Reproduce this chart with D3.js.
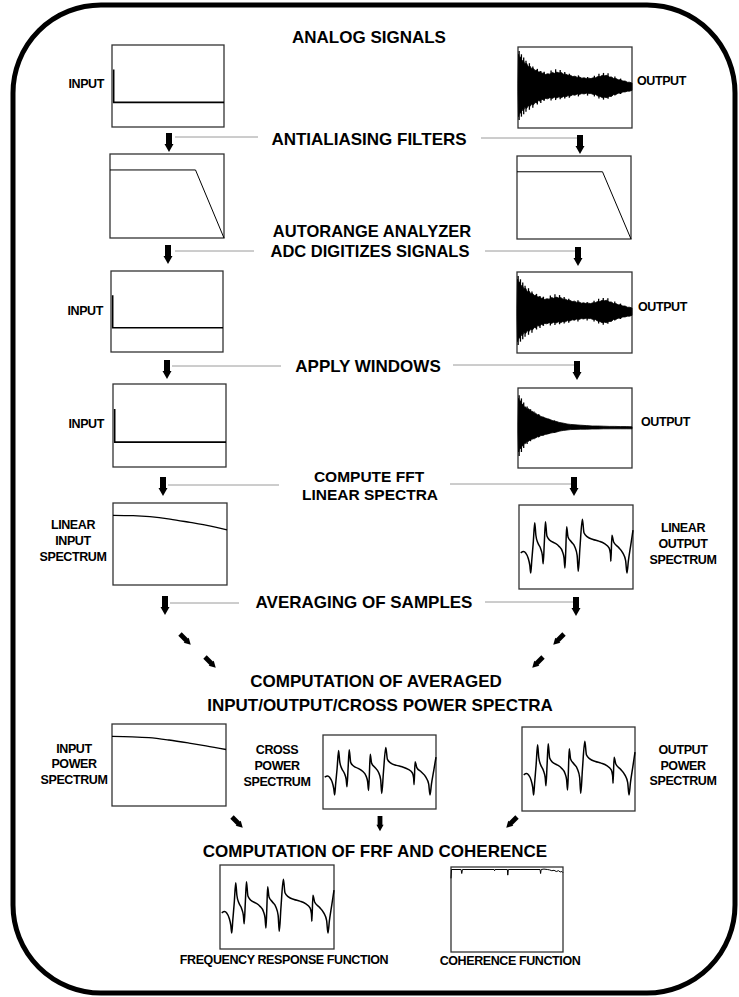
<!DOCTYPE html>
<html><head><meta charset="utf-8">
<script src="https://cdn.jsdelivr.net/npm/d3@7"></script>
<style>
body{margin:0;background:#fff}
svg{display:block}
text{font-family:"Liberation Sans",Arial,Helvetica,sans-serif;font-weight:bold;fill:#000}
</style>
</head><body><div id="chart"></div>
<script>
// ---------------- DATA ----------------
// impulse input (time, amplitude)
const inputPulseT = [0.015, 0.015, 1];
const inputPulseV = [1, 0, 0];

// decaying output time signal: envelope of dense oscillation (time, upper, lower)
const outputT = [0,0.005,0.015,0.025,0.035,0.045,0.06,0.075,0.09,0.105,0.12,0.135,0.15,0.165,0.18,0.195,0.21,0.225,0.24,
  0.26,0.28,0.30,0.32,0.34,0.36,0.38,0.40,0.42,0.44,0.46,0.48,0.50,0.52,0.54,0.56,0.58,0.60,0.62,0.64,0.66,0.68,0.70,0.72,0.74,0.76,0.78,0.80,0.82,0.84,0.86,0.88,0.90,0.92,0.94,0.96,0.98,1.00];
const outputUpper = [0.10,0.82,0.72,0.76,0.64,0.68,0.58,0.60,0.51,0.53,0.46,0.47,0.42,0.43,0.38,0.39,0.35,0.36,0.32,
  0.34,0.33,0.37,0.35,0.38,0.36,0.37,0.33,0.33,0.30,0.30,0.27,0.28,0.25,0.26,0.23,0.24,0.22,0.23,0.22,0.24,0.24,0.27,0.27,0.30,0.29,0.30,0.26,0.26,0.22,0.22,0.19,0.19,0.16,0.16,0.13,0.13,0.11];
const outputLower = [-0.10,-0.72,-0.60,-0.64,-0.54,-0.58,-0.49,-0.52,-0.45,-0.47,-0.41,-0.43,-0.37,-0.38,-0.32,-0.34,-0.29,-0.31,-0.27,
  -0.28,-0.25,-0.27,-0.24,-0.26,-0.23,-0.25,-0.22,-0.23,-0.20,-0.21,-0.18,-0.19,-0.16,-0.17,-0.15,-0.16,-0.14,-0.15,-0.15,-0.17,-0.17,-0.21,-0.22,-0.25,-0.24,-0.25,-0.22,-0.22,-0.17,-0.17,-0.14,-0.14,-0.11,-0.11,-0.09,-0.09,-0.07];
// protruding oscillation peaks of the output signal (time, top, bottom)
const outputSpikeT = [0.01,0.03,0.05,0.07,0.10,0.13,0.17,0.20,0.23,0.29,0.33,0.37,0.41,0.45,0.53,0.61,0.67,0.71,0.75,0.79,0.85,0.90];
const outputSpikeHi = [0.90,0.82,0.74,0.66,0.60,0.52,0.46,0.41,0.39,0.42,0.45,0.43,0.38,0.34,0.30,0.26,0.29,0.34,0.36,0.35,0.27,0.22];
const outputSpikeLo = [-0.80,-0.72,-0.66,-0.60,-0.55,-0.50,-0.42,-0.38,-0.33,-0.32,-0.31,-0.29,-0.27,-0.25,-0.22,-0.20,-0.22,-0.27,-0.30,-0.28,-0.20,-0.16];

// windowed output (time, upper, lower)
const windowedT = [0,0.005,0.015,0.025,0.035,0.045,0.055,0.065,0.08,0.095,0.11,0.125,0.14,0.155,0.17,0.185,0.2,
  0.22,0.24,0.26,0.28,0.3,0.32,0.34,0.36,0.38,0.4,0.43,0.46,0.5,0.55,0.6,0.65,0.7,0.75,0.8,0.85,0.9,0.95,1];
const windowedUpper = [0.1,0.74,0.66,0.68,0.58,0.60,0.52,0.53,0.47,0.48,0.42,0.42,0.37,0.37,0.33,0.33,0.29,
  0.27,0.25,0.23,0.21,0.19,0.17,0.16,0.14,0.13,0.12,0.10,0.09,0.08,0.07,0.06,0.05,0.05,0.045,0.04,0.04,0.035,0.035,0.03];
const windowedLower = [-0.1,-0.60,-0.50,-0.52,-0.44,-0.45,-0.38,-0.39,-0.33,-0.33,-0.28,-0.28,-0.25,-0.25,-0.22,-0.22,-0.19,
  -0.18,-0.16,-0.15,-0.13,-0.12,-0.11,-0.10,-0.08,-0.07,-0.06,-0.05,-0.04,-0.035,-0.03,-0.03,-0.025,-0.025,-0.02,-0.02,-0.02,-0.02,-0.02,-0.02];
const windowedSpikeT = [0.01,0.03,0.05,0.08,0.11,0.14,0.18,0.22,0.27,0.32];
const windowedSpikeHi = [0.82,0.74,0.64,0.54,0.47,0.41,0.34,0.28,0.23,0.19];
const windowedSpikeLo = [-0.70,-0.60,-0.50,-0.40,-0.33,-0.28,-0.23,-0.19,-0.15,-0.12];

// antialiasing filter (frequency, gain)
const filterF = [0, 0.75, 1];
const filterGain = [0.81, 0.81, 0];

// input spectra (frequency, magnitude)
const inputSpecF = [0, 0.176, 0.324, 0.5, 0.676, 0.824, 1];
const inputSpecMag = [0.849, 0.845, 0.833, 0.804, 0.763, 0.727, 0.673];
const inputPowMag = [0.848, 0.844, 0.834, 0.805, 0.768, 0.734, 0.689];

// output / cross / FRF spectrum shape (frequency, magnitude)
const frfF = [0.015,0.04,0.06,0.08,0.095,0.103,0.112,0.125,0.138,0.148,
  0.165,0.19,0.205,0.212,0.222,0.232,0.245,0.27,0.31,0.35,
  0.38,0.395,0.403,0.41,0.418,0.43,0.46,0.49,0.51,0.52,
  0.535,0.556,0.57,0.60,0.65,0.70,0.75,0.79,0.802,0.806,
  0.815,0.83,0.87,0.91,0.935,0.947,0.96,0.98,1.0];
const frfMag = [0.43,0.445,0.425,0.37,0.28,0.19,0.34,0.55,0.79,0.64,
  0.55,0.48,0.40,0.30,0.55,0.80,0.63,0.58,0.55,0.51,
  0.45,0.37,0.25,0.45,0.74,0.62,0.56,0.50,0.40,0.21,
  0.50,0.83,0.67,0.62,0.59,0.57,0.54,0.49,0.42,0.33,
  0.64,0.56,0.50,0.43,0.34,0.19,0.34,0.52,0.70];

// coherence (frequency, value)
const cohF = [0,0.004,0.09,0.096,0.102,0.385,0.389,0.393,0.503,0.507,0.512,0.795,0.8,0.805,0.83,0.86,0.88,0.9,0.92,0.94,0.96,0.975,0.99,1.0];
const cohVal = [0.89,1.0,1.0,0.95,1.0,1.0,0.985,1.0,1.0,0.93,1.0,1.0,0.95,1.0,1.005,1.0,0.995,0.985,0.99,0.975,0.985,0.97,0.975,0.96];

// ---------------- LAYOUT ----------------
const W = 739, H = 997;
const svg = d3.select("#chart").append("svg").attr("width", W).attr("height", H);

svg.append("rect").attr("x", 13).attr("y", 5).attr("width", 722).attr("height", 988)
  .attr("rx", 88).attr("ry", 88).attr("fill", "none").attr("stroke", "#000").attr("stroke-width", 5);

const P = {
  inA:{x:112,y:45,w:112,h:82},  outA:{x:518,y:47,w:114,h:81},
  filtL:{x:110,y:154,w:114,h:84}, filtR:{x:517,y:156,w:114,h:83},
  inD:{x:111,y:271,w:112,h:81},  outD:{x:517,y:272,w:115,h:81},
  inW:{x:113,y:384,w:113,h:83},  outW:{x:518,y:388,w:114,h:80},
  inS:{x:113,y:503,w:114,h:82},  outS:{x:519,y:505,w:114,h:84},
  inP:{x:112,y:724,w:114,h:82},  crP:{x:323,y:735,w:113,h:74}, outP:{x:522,y:727,w:113,h:84},
  frf:{x:220,y:865,w:114,h:84},  coh:{x:451,y:867,w:112,h:85}
};

function panel(p) {
  const g = svg.append("g");
  g.append("rect").attr("x", p.x).attr("y", p.y).attr("width", p.w).attr("height", p.h)
    .attr("fill", "#fff").attr("stroke", "#333").attr("stroke-width", 1.3);
  const x = d3.scaleLinear().domain([0, 1]).range([p.x, p.x + p.w]);
  return { g, x };
}

function drawPulse(p) {
  const { g, x } = panel(p);
  const y = d3.scaleLinear().domain([-0.75, 1.75]).range([p.y + p.h, p.y]);
  const pts = inputPulseT.map((t, i) => [t, inputPulseV[i]]);
  g.append("path").attr("d", d3.line().x(d => x(d[0])).y(d => y(d[1]))(pts))
    .attr("fill", "none").attr("stroke", "#000").attr("stroke-width", 1.6);
}

function drawBand(p, T, U, L, ST, SH, SL) {
  const { g, x } = panel(p);
  const y = d3.scaleLinear().domain([-1, 1]).range([p.y + p.h, p.y]);
  const pts = T.map((t, i) => [t, U[i], L[i]]);
  g.append("path").attr("d", d3.area().x(d => x(d[0])).y0(d => y(d[2])).y1(d => y(d[1]))(pts))
    .attr("fill", "#000").attr("stroke", "#000").attr("stroke-width", 0.8);
  g.selectAll(null).data(ST.map((t, i) => [t, SH[i], SL[i]])).enter().append("line")
    .attr("x1", d => x(d[0])).attr("x2", d => x(d[0]))
    .attr("y1", d => y(d[1])).attr("y2", d => y(d[2]))
    .attr("stroke", "#000").attr("stroke-width", 1.3);
}

function drawLine(p, F, M, opts) {
  const { g, x } = panel(p);
  const y = d3.scaleLinear().domain(opts.domain || [0, 1]).range([p.y + p.h - (opts.pb || 0), p.y + (opts.pt || 0)]);
  const pts = F.map((f, i) => [f, M[i]]);
  g.append("path").attr("d", d3.line().curve(opts.curve || d3.curveLinear).x(d => x(d[0])).y(d => y(d[1]))(pts))
    .attr("fill", "none").attr("stroke", "#000").attr("stroke-width", opts.sw || 1.3);
}

drawPulse(P.inA); drawPulse(P.inD); drawPulse(P.inW);
drawBand(P.outA, outputT, outputUpper, outputLower, outputSpikeT, outputSpikeHi, outputSpikeLo);
drawBand(P.outD, outputT, outputUpper, outputLower, outputSpikeT, outputSpikeHi, outputSpikeLo);
drawBand(P.outW, windowedT, windowedUpper, windowedLower, windowedSpikeT, windowedSpikeHi, windowedSpikeLo);
drawLine(P.filtL, filterF, filterGain, { sw: 1 });
drawLine(P.filtR, filterF, filterGain, { sw: 1 });
drawLine(P.inS, inputSpecF, inputSpecMag, { curve: d3.curveMonotoneX, sw: 1.3 });
drawLine(P.inP, inputSpecF, inputPowMag, { curve: d3.curveMonotoneX, sw: 1.3 });
[P.outS, P.crP, P.outP, P.frf].forEach(p => drawLine(p, frfF, frfMag, { curve: d3.curveMonotoneX, sw: 1.5 }));
drawLine(P.coh, cohF, cohVal, { pb: 2, pt: 2.5, sw: 1 });

// ---------------- ARROWS & CONNECTORS ----------------
const arrowPath = "M-3,0 H3 V11 H4.5 L0,19 L-4.5,11 H-3 Z";
const downArrows = [[169,133],[580,135],[168,245],[578,247],[167,360],[577,361],[163,477],[574,477],[165,596],[576,597]];
downArrows.forEach(([ax, ay]) => svg.append("path").attr("d", arrowPath)
  .attr("transform", `translate(${ax},${ay})`).attr("fill", "#000"));
const diagArrows = [[180,634,-45],[205,657,-45],[564,634,45],[543,657,45],[232,817,-45],[517,817,45],[380,816,0]];
diagArrows.forEach(([ax, ay, r]) => svg.append("path").attr("d", arrowPath)
  .attr("transform", `translate(${ax},${ay}) rotate(${r}) scale(0.8)`).attr("fill", "#000"));

const connectors = [[175,258,137],[481,577,138],[175,254,251],[485,575,251],[172,281,366],[453,574,365],[168,279,485],[450,571,484],[170,239,603],[485,573,602]];
connectors.forEach(([x1, x2, yy]) => svg.append("line").attr("x1", x1).attr("x2", x2).attr("y1", yy).attr("y2", yy)
  .attr("stroke", "#9a9a9a").attr("stroke-width", 1));

// ---------------- TEXT ----------------
const headings = [
  ["ANALOG SIGNALS", 369, 43, 17],
  ["ANTIALIASING FILTERS", 369, 145, 17],
  ["AUTORANGE ANALYZER", 372, 237, 16.5],
  ["ADC DIGITIZES SIGNALS", 370, 257, 16.5],
  ["APPLY WINDOWS", 368, 372, 17],
  ["COMPUTE FFT", 369, 482, 15.5],
  ["LINEAR SPECTRA", 370, 500, 15.5],
  ["AVERAGING OF SAMPLES", 364, 608, 17],
  ["COMPUTATION OF AVERAGED", 376, 687, 17],
  ["INPUT/OUTPUT/CROSS POWER SPECTRA", 380, 711, 17],
  ["COMPUTATION OF FRF AND COHERENCE", 375, 857, 17]
];
headings.forEach(([t, hx, hy, fs]) => svg.append("text").attr("x", hx).attr("y", hy)
  .attr("text-anchor", "middle").style("font-size", fs + "px").text(t));

const labels = [
  [["INPUT"], 104, [88], "end"], [["OUTPUT"], 637, [85], "start"],
  [["INPUT"], 103, [315], "end"], [["OUTPUT"], 638, [311], "start"],
  [["INPUT"], 104, [428], "end"], [["OUTPUT"], 641, [426], "start"],
  [["LINEAR","INPUT","SPECTRUM"], 73, [529,545,561], "middle"],
  [["LINEAR","OUTPUT","SPECTRUM"], 683, [532,548,564], "middle"],
  [["INPUT","POWER","SPECTRUM"], 74, [753,768,784], "middle"],
  [["CROSS","POWER","SPECTRUM"], 277, [754,770,786], "middle"],
  [["OUTPUT","POWER","SPECTRUM"], 683, [754,770,785], "middle"],
  [["FREQUENCY RESPONSE FUNCTION"], 284, [964], "middle"],
  [["COHERENCE FUNCTION"], 510, [965], "middle"]
];
labels.forEach(([lines, lx, ys, anchor]) => lines.forEach((s, i) =>
  svg.append("text").attr("x", lx).attr("y", ys[i]).attr("text-anchor", anchor)
    .style("font-size", "12.5px").style("letter-spacing", "-0.4px").text(s)));
</script>
</body></html>
